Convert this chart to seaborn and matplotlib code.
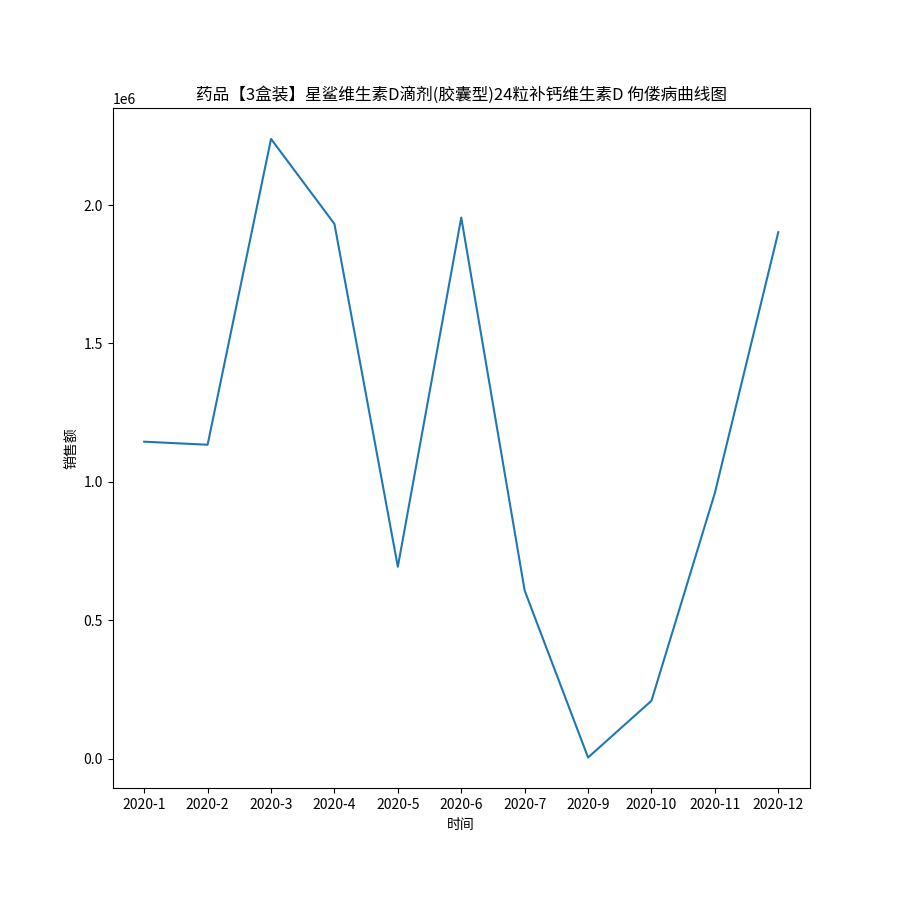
import matplotlib
matplotlib.use("Agg")
import matplotlib.pyplot as plt
import pandas as pd
import seaborn as sns

months = ["2020-1", "2020-2", "2020-3", "2020-4", "2020-5", "2020-6",
          "2020-7", "2020-9", "2020-10", "2020-11", "2020-12"]
sales = [1145000, 1134000, 2239000, 1932000, 693000, 1955000,
         607000, 4000, 209000, 960000, 1902000]

plt.rcParams['font.family'] = ['Noto Sans CJK SC', 'DejaVu Sans']
plt.rcParams['axes.unicode_minus'] = False

df = pd.DataFrame({"时间": months, "销售额": sales})

fig, ax = plt.subplots(figsize=(9, 9), dpi=100)
fig.subplots_adjust(left=0.125, right=0.9, top=0.88, bottom=0.124)
sns.lineplot(x="时间", y="销售额", data=df, sort=False, ax=ax, color="#1f77b4")
ax.set_title("药品【3盒装】星鲨维生素D滴剂(胶囊型)24粒补钙维生素D 佝偻病曲线图")
ax.set_xlabel("时间")
ax.set_ylabel("销售额")

plt.savefig("out.png", dpi=100)
